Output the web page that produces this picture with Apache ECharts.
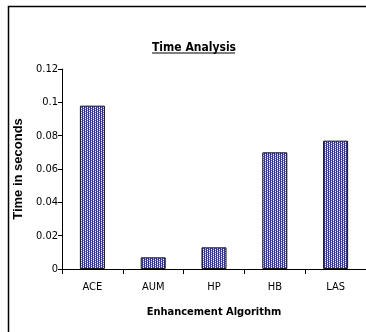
<!DOCTYPE html>
<html><head><meta charset="utf-8">
<script src="https://cdn.jsdelivr.net/npm/echarts@6/dist/echarts.min.js"></script>
<style>html,body{margin:0;padding:0;background:#fff}#c{width:366px;height:332px}</style>
</head><body><div id="c"></div>
<script>
var categories = ['ACE', 'AUM', 'HP', 'HB', 'LAS'];
var values = [0.098, 0.007, 0.013, 0.070, 0.077];
var yTicks = [0, 0.02, 0.04, 0.06, 0.08, 0.1, 0.12];

var pc = document.createElement('canvas');
pc.width = 4; pc.height = 2;
var ctx = pc.getContext('2d');
ctx.fillStyle = '#3030a8'; ctx.fillRect(0, 0, 4, 2);
ctx.fillStyle = '#ffffff';
ctx.fillRect(1, 0, 1, 1);
ctx.fillRect(3, 1, 1, 1);
ctx.fillStyle = '#7272cc';
ctx.fillRect(1, 1, 1, 1);
ctx.fillRect(3, 0, 1, 1);

var FN = '"DejaVu Sans Condensed", "Liberation Sans Narrow", "Liberation Sans", Arial, sans-serif';
var FB = '"Liberation Sans", Arial, sans-serif';
var chart = echarts.init(document.getElementById('c'), null, {renderer: 'canvas'});
chart.setOption({
  animation: false,
  backgroundColor: '#fff',
  title: {
    text: 'Time Analysis', left: 189, top: 37, textAlign: 'center',
    textStyle: {fontFamily: FN, fontSize: 12, fontWeight: 'bold', color: '#000'}
  },
  graphic: [
    {type: 'line', shape: {x1: 152, y1: 53, x2: 235, y2: 53}, style: {stroke: '#000', lineWidth: 1.2}},
    {type: 'rect', shape: {x: 8.5, y: 6.5, width: 400, height: 400}, style: {fill: 'none', stroke: '#000', lineWidth: 1.5}, z: 100}
  ],
  grid: {left: 62, right: -2, top: 69, bottom: 63, containLabel: false},
  xAxis: {
    type: 'category', data: categories,
    name: 'Enhancement Algorithm', nameLocation: 'middle', nameGap: 38,
    nameTextStyle: {fontFamily: FN, fontSize: 11, fontWeight: 'bold', color: '#000'},
    axisLine: {lineStyle: {color: '#000', width: 1}},
    axisTick: {show: true, alignWithLabel: false, length: 5, lineStyle: {color: '#000'}},
    axisLabel: {fontFamily: FN, fontSize: 11, color: '#000', margin: 13}
  },
  yAxis: {
    type: 'value', min: 0, max: 0.12, interval: 0.02,
    name: 'Time in seconds', nameLocation: 'middle', nameGap: 29,
    nameTextStyle: {fontFamily: FB, fontSize: 13, fontWeight: 'bold', color: '#000'},
    axisLine: {show: true, lineStyle: {color: '#000', width: 1}},
    axisTick: {show: true, length: 4, lineStyle: {color: '#000'}},
    splitLine: {show: false},
    axisLabel: {fontFamily: FN, fontSize: 11, color: '#000', margin: 4,
      formatter: function (v) { return String(Math.round(v * 100) / 100); }}
  },
  series: [{
    type: 'bar', data: values, barWidth: 25,
    itemStyle: {color: {image: pc, repeat: 'repeat'}, borderColor: '#111', borderWidth: 1}
  }]
});
</script></body></html>
